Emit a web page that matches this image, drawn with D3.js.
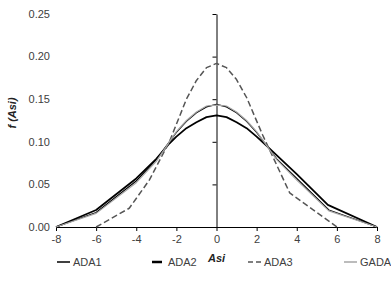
<!DOCTYPE html>
<html>
<head>
<meta charset="utf-8">
<script src="https://cdn.jsdelivr.net/npm/d3@7"></script>
<style>
  body { margin: 0; background: #fff; }
  svg { display: block; font-family: "Liberation Sans", Arial, sans-serif; }
</style>
</head>
<body>
<svg id="chart" width="391" height="303"></svg>
<script>
// values
const ada1X = [-8, -6, -4, -3, -2.35, -2, -1.5, -1, -0.5, 0, 0.5, 1, 1.5, 2, 3, 4, 5.6, 8];
const ada1Y = [0, 0.017, 0.054, 0.079, 0.100, 0.111, 0.124, 0.134, 0.141, 0.144, 0.141, 0.134, 0.124, 0.111, 0.080, 0.057, 0.020, 0];

const ada2X = [-8, -6, -4, -3, -2.35, -2, -1.5, -1, -0.5, 0, 0.5, 1, 1.5, 2, 2.65, 4, 5.55, 8];
const ada2Y = [0, 0.020, 0.057, 0.080, 0.098, 0.106, 0.116, 0.123, 0.129, 0.131, 0.129, 0.123, 0.116, 0.106, 0.092, 0.062, 0.026, 0];

const ada3X = [-6, -4.35, -3.35, -2.35, -1.5, -1, -0.5, 0, 0.5, 1, 1.5, 2.3, 3.65, 6];
const ada3Y = [0, 0.022, 0.055, 0.100, 0.150, 0.172, 0.187, 0.192, 0.187, 0.173, 0.152, 0.108, 0.040, 0];

const gadaX = [-8, -6, -4, -3, -2.35, -2, -1.5, -1, -0.5, 0, 0.5, 1, 1.5, 2, 3, 4, 5.6, 8];
const gadaY = [0, 0.016, 0.052, 0.077, 0.100, 0.112, 0.125, 0.135, 0.142, 0.143, 0.142, 0.135, 0.125, 0.112, 0.079, 0.055, 0.019, 0];

const xTicks = [-8, -6, -4, -2, 0, 2, 4, 6, 8];
const yTicks = [0, 0.05, 0.10, 0.15, 0.20, 0.25];

const series = [
  { name: 'ADA1', xs: ada1X, ys: ada1Y, color: '#000', width: 1.2, dash: null },
  { name: 'ADA2', xs: ada2X, ys: ada2Y, color: '#000', width: 1.8, dash: null },
  { name: 'ADA3', xs: ada3X, ys: ada3Y, color: '#555', width: 1.5, dash: '6,3' },
  { name: 'GADA', xs: gadaX, ys: gadaY, color: '#a6a6a6', width: 1.2, dash: null }
];

const svg = d3.select('#chart');
const plot = { left: 56, right: 377, top: 14, bottom: 227 };

const x = d3.scaleLinear().domain([-8, 8]).range([plot.left, plot.right]);
const y = d3.scaleLinear().domain([0, 0.25]).range([plot.bottom, plot.top]);

//Y axis sits at x = 0, labels stay at the left edge
const yAxis = svg.append('g')
  .attr('transform', `translate(${x(0)},0)`)
  .call(d3.axisLeft(y).tickValues(yTicks).tickSize(4).tickSizeOuter(0).tickFormat(''));
yAxis.select('.domain').attr('stroke', '#000');
yAxis.selectAll('.tick line').attr('stroke', '#000');

svg.append('g')
  .selectAll('text')
  .data(yTicks)
  .join('text')
  .attr('x', 50)
  .attr('y', d => y(d))
  .attr('dy', '0.35em')
  .attr('text-anchor', 'end')
  .attr('font-size', 11)
  .attr('fill', '#404040')
  .text(d3.format('.2f'));

const xAxis = svg.append('g')
  .attr('transform', `translate(0,${y(0)})`)
  .call(d3.axisBottom(x).tickValues(xTicks).tickSize(4).tickSizeOuter(0).tickPadding(4)
    .tickFormat(d => String(d)));
xAxis.select('.domain').attr('stroke', '#000');
xAxis.selectAll('.tick line').attr('stroke', '#000');
xAxis.selectAll('.tick text')
  .attr('font-size', 11)
  .attr('font-family', '"Liberation Sans", Arial, sans-serif')
  .attr('fill', '#404040');

//Curves
const line = d3.line()
  .x(d => x(d[0]))
  .y(d => y(d[1]));

series.forEach(s => {
  const pts = s.xs.map((v, i) => [v, s.ys[i]]);
  svg.append('path')
    .datum(pts)
    .attr('d', line)
    .attr('fill', 'none')
    .attr('stroke', s.color)
    .attr('stroke-width', s.width)
    .attr('stroke-dasharray', s.dash)
    .attr('stroke-linejoin', 'round');
});

//Axis titles
svg.append('text')
  .attr('x', x(0))
  .attr('y', 262)
  .attr('text-anchor', 'middle')
  .attr('font-size', 11)
  .attr('font-weight', 'bold')
  .attr('font-style', 'italic')
  .attr('fill', '#222')
  .text('Asi');

svg.append('text')
  .attr('transform', 'translate(16,113) rotate(-90)')
  .attr('text-anchor', 'middle')
  .attr('font-size', 11)
  .attr('font-weight', 'bold')
  .attr('font-style', 'italic')
  .attr('fill', '#222')
  .text('f (Asi)');

//Legend
const legendItems = [
  { s: series[0], x1: 57, x2: 70, tx: 73, w: 1.5, dash: null },
  { s: series[1], x1: 152, x2: 162, tx: 168, w: 2.5, dash: null },
  { s: series[2], x1: 248, x2: 262, tx: 264, w: 1.5, dash: '5,3' },
  { s: series[3], x1: 344, x2: 357, tx: 360, w: 1.5, dash: null }
];
const legendY = 262;
legendItems.forEach(it => {
  svg.append('line')
    .attr('x1', it.x1).attr('x2', it.x2)
    .attr('y1', legendY).attr('y2', legendY)
    .attr('stroke', it.s.color)
    .attr('stroke-width', it.w)
    .attr('stroke-dasharray', it.dash);
  svg.append('text')
    .attr('x', it.tx)
    .attr('y', legendY)
    .attr('dy', '0.35em')
    .attr('font-size', 11)
    .attr('fill', '#404040')
    .text(it.s.name);
});
</script>
</body>
</html>
